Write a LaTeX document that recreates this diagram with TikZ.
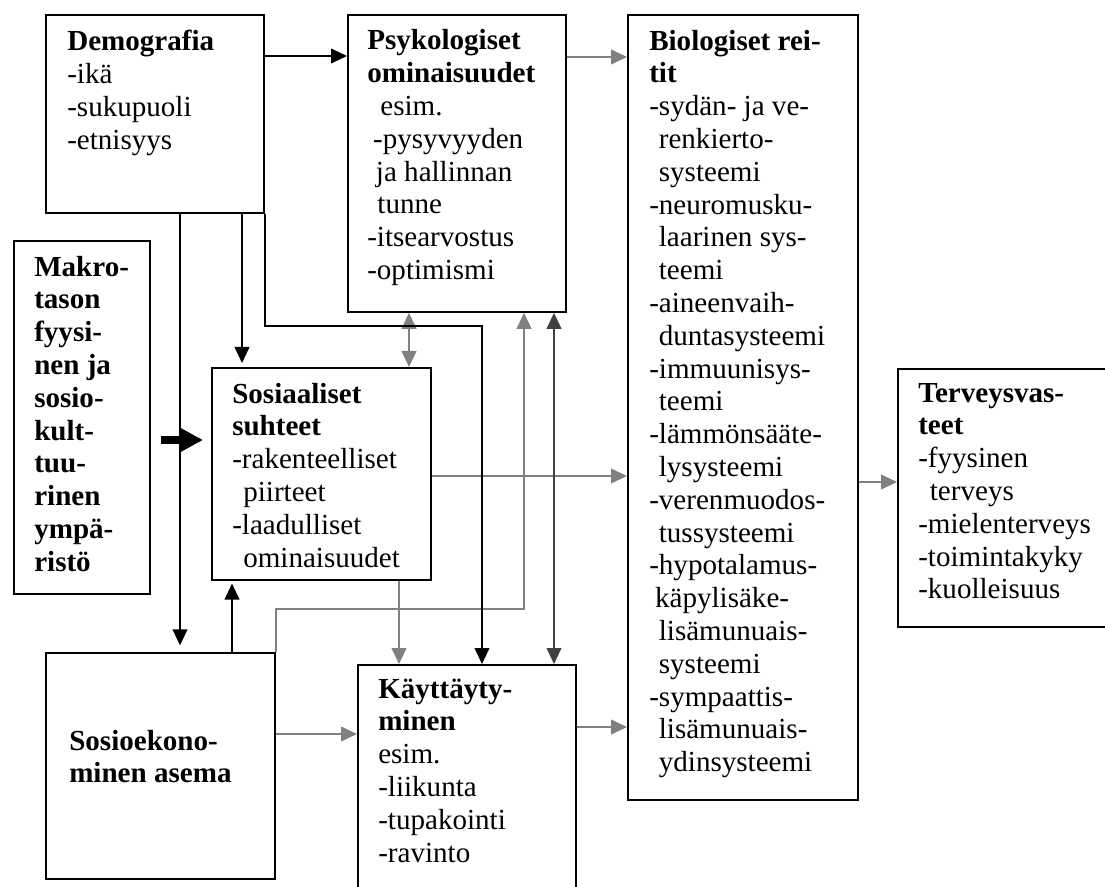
\documentclass[tikz,border=0pt]{standalone}
\usepackage{fontspec}
\setmainfont{Liberation Serif}
\usetikzlibrary{arrows.meta}
\definecolor{linegray}{RGB}{128,128,128}
\definecolor{linedark}{RGB}{64,64,64}
\newcommand\pad[1]{\hspace*{#1em}}

\begin{document}
\begin{tikzpicture}[x=0.75pt,y=-0.75pt,
  box/.style={draw=black, line width=1.4pt, anchor=north west, inner sep=0pt, rectangle},
  % text blocks are placed by the baseline of their last line
  txt/.style={anchor=base west, align=left, inner sep=0pt,
    font=\fontsize{21.8pt}{24.6pt}\selectfont},
  conn/.style={line width=1.4pt, -{Triangle[length=12pt,width=11pt]}},
  both/.style={line width=1.4pt, {Triangle[length=12pt,width=11pt]}-{Triangle[length=12pt,width=11pt]}},
  blk/.style={conn, draw=black},
  gry/.style={conn, draw=linegray},
  grywide/.style={both, draw=linegray},
  darkwide/.style={both, draw=linedark},
  heavy/.style={line width=6pt, draw=black, -{Triangle[length=17pt,width=17pt]}}
]
\useasboundingbox (0,0) rectangle (1105,887);
\clip (0,0) rectangle (1105,887);

% boxes
\node[box, minimum width=163.5pt, minimum height=148.5pt]  (demo)  at (45,14)   {};
\node[box, minimum width=163.5pt, minimum height=222.75pt] (psyk)  at (347,14)  {};
\node[box, minimum width=172.5pt, minimum height=588.75pt] (bio)   at (627,14)  {};
\node[box, minimum width=163.5pt, minimum height=193.5pt]  (terv)  at (897,368) {};
\node[box, minimum width=102pt,   minimum height=264.75pt] (makro) at (13,240)  {};
\node[box, minimum width=164.25pt,minimum height=159pt]    (sos)   at (211,367) {};
\node[box, minimum width=171.75pt,minimum height=169.5pt]  (soek)  at (45,652)  {};
\node[box, minimum width=163.5pt, minimum height=186pt]    (kay)   at (357,664) {};

% texts
\node[txt] (demo-t) at (67,149.4) {\textbf{Demografia}\\-ikä\\-sukupuoli\\-etnisyys};
\node[txt] (psyk-t) at (367,279.6) {\textbf{Psykologiset}\\\textbf{ominaisuudet}\\
  \pad{0.45}esim.\\\pad{0.2}-pysyvyyden\\\pad{0.3}ja hallinnan\\\pad{0.35}tunne\\
  -itsearvostus\\-optimismi};
\node[txt] (bio-t) at (649,771.6) {\textbf{Biologiset rei-}\\\textbf{tit}\\
  -sydän- ja ve-\\\pad{0.33}renkierto-\\\pad{0.33}systeemi\\
  -neuromusku-\\\pad{0.33}laarinen sys-\\\pad{0.33}teemi\\
  -aineenvaih-\\\pad{0.33}duntasysteemi\\
  -immuunisys-\\\pad{0.33}teemi\\
  -lämmönsääte-\\\pad{0.33}lysysteemi\\
  -verenmuodos-\\\pad{0.33}tussysteemi\\
  -hypotalamus-\\\pad{0.2}käpylisäke-\\\pad{0.33}lisämunuais-\\\pad{0.33}systeemi\\
  -sympaattis-\\\pad{0.33}lisämunuais-\\\pad{0.33}ydinsysteemi};
\node[txt] (terv-t) at (918,598.8) {\textbf{Terveysvas-}\\\textbf{teet}\\-fyysinen\\
  \pad{0.4}terveys\\-mielenterveys\\-toimintakyky\\-kuolleisuus};
\node[txt] (makro-t) at (34,571.2) {\textbf{Makro-}\\\textbf{tason}\\\textbf{fyysi-}\\
  \textbf{nen ja}\\\textbf{sosio-}\\\textbf{kult-}\\\textbf{tuu-}\\\textbf{rinen}\\
  \textbf{ympä-}\\\textbf{ristö}};
\node[txt] (sos-t) at (232,567) {\textbf{Sosiaaliset}\\\textbf{suhteet}\\-rakenteelliset\\
  \pad{0.38}piirteet\\-laadulliset\\\pad{0.38}ominaisuudet};
\node[txt] (soek-t) at (69,782.8) {\textbf{Sosioekono-}\\\textbf{minen asema}};
\node[txt] (kay-t) at (378,862) {\textbf{Käyttäyty-}\\\textbf{minen}\\esim.\\-liikunta\\
  -tupakointi\\-ravinto};

% grey connectors
\draw[gry] (psyk.east |- 0,57) -- (bio.west |- 0,57);
\draw[gry] (soek.north east) -- ++(0,-43) -| (psyk.south -| 524,0);
\draw[gry] (sos.south -| 399,0) -- (kay.north -| 399,0);
\draw[gry] (sos.east |- 0,476) -- (bio.west |- 0,476);
\draw[gry] (soek.east |- 0,734) -- (kay.west |- 0,734);
\draw[gry] (kay.east |- 0,727) -- (bio.west |- 0,727);
\draw[gry] (bio.east |- 0,482) -- (terv.west |- 0,482);
\draw[grywide] (psyk.south -| 409,0) -- (sos.north -| 409,0);
\draw[darkwide] (psyk.south -| 554,0) -- (kay.north -| 554,0);

% black connectors
\draw[blk] (demo.east |- 0,56) -- (psyk.west |- 0,56);
\draw[blk, shorten >=5pt] (demo.south -| 180,0) -- (soek.north -| 180,0);
\draw[blk, shorten >=3pt] (demo.south -| 242,0) -- (sos.north -| 242,0);
\draw[blk] (demo.south east) -- ++(0,112) -| (kay.north -| 482,0);
\draw[blk, shorten >=2pt] (soek.north -| 232,0) -- (sos.south -| 232,0);
\draw[heavy, shorten <=7.5pt, shorten >=6pt] (makro.east |- 0,440) -- (sos.west |- 0,440);
\end{tikzpicture}
\end{document}
